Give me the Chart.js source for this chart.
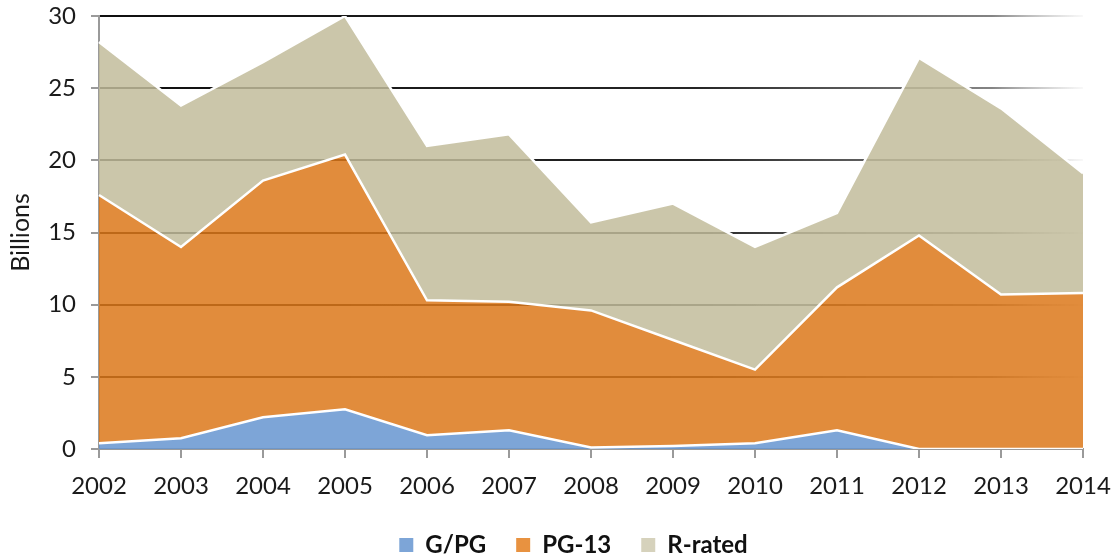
<!DOCTYPE html>
<html>
<head>
<meta charset="utf-8">
<script src="https://cdn.jsdelivr.net/npm/chart.js@4.4.1/dist/chart.umd.min.js"></script>
<style>
  html, body { margin: 0; padding: 0; background: #ffffff; }
  #wrap { width: 1114px; height: 559px; position: relative; }
</style>
</head>
<body>
<div id="wrap"><canvas id="c" width="1114" height="559"></canvas></div>
<script>
// ---- data (billions) ----
const years = ['2002','2003','2004','2005','2006','2007','2008','2009','2010','2011','2012','2013','2014'];
const gpg   = [0.4, 0.75, 2.2, 2.75, 0.95, 1.3, 0.1, 0.2, 0.4, 1.3, 0.0, 0.0, 0.0];
const pg13  = [17.2, 13.25, 16.4, 17.65, 9.35, 8.9, 9.5, 7.35, 5.1, 9.9, 14.8, 10.7, 10.8];
const rRated= [10.6, 9.8, 8.2, 9.6, 10.7, 11.6, 6.1, 9.45, 8.5, 5.15, 12.3, 12.9, 8.3];
const seriesNames = ['G/PG', 'PG-13', 'R-rated'];
const yTicks = [0, 5, 10, 15, 20, 25, 30];

const fillColors  = ['rgba(102,149,208,0.85)', 'rgba(220,120,26,0.85)', 'rgba(194,188,155,0.85)'];
const solidColors = ['rgb(125,165,215)', 'rgb(232,146,64)', 'rgb(214,210,188)'];
const FONT = 'Lato, "Open Sans", sans-serif';

function gridGradient(ctx) {
  const chart = ctx.chart;
  const ca = chart.chartArea;
  if (!ca) return 'rgba(40,40,40,0.9)';
  if (ctx.tick && ctx.tick.value === 0) return 'rgba(0,0,0,0)';
  const g = chart.ctx.createLinearGradient(ca.left, 0, ca.right + 8, 0);
  g.addColorStop(0, 'rgba(15,15,15,1)');
  g.addColorStop(0.6, 'rgba(25,25,25,0.95)');
  g.addColorStop(0.9, 'rgba(50,50,50,0.6)');
  g.addColorStop(1, 'rgba(120,120,120,0.0)');
  return g;
}

const shiftLegend = {
  id: 'shiftLegend',
  afterLayout(chart) {
    const lg = chart.legend;
    if (!lg) return;
    lg.left += 32; lg.right += 32;
    lg.top += 8; lg.bottom += 8;
  }
};

new Chart(document.getElementById('c'), {
  type: 'line',
  data: {
    labels: years,
    datasets: [gpg, pg13, rRated].map((vals, i) => ({
      label: seriesNames[i],
      data: vals,
      fill: i === 0 ? 'origin' : '-1',
      backgroundColor: fillColors[i],
      borderColor: '#ffffff',
      borderWidth: 2.5,
      pointRadius: 0,
      tension: 0
    }))
  },
  options: {
    responsive: false,
    animation: false,
    layout: { padding: { top: 16, right: 31, left: 0, bottom: 0 } },
    plugins: {
      tooltip: { enabled: false },
      legend: {
        position: 'bottom',
        labels: {
          font: { family: FONT, size: 24, weight: 'bold' },
          color: '#111',
          boxWidth: 14,
          boxHeight: 14,
          padding: 30,
          generateLabels(chart) {
            return chart.data.datasets.map((ds, i) => ({
              text: ds.label,
              fillStyle: solidColors[i],
              strokeStyle: solidColors[i],
              lineWidth: 0,
              hidden: false,
              datasetIndex: i,
              fontColor: '#111'
            }));
          }
        }
      }
    },
    scales: {
      x: {
        type: 'category',
        offset: false,
        grid: { drawOnChartArea: false, drawTicks: true, tickLength: 9, color: '#9a9a9a', lineWidth: 2 },
        border: { display: true, color: '#9a9a9a', width: 2 },
        ticks: { font: { family: FONT, size: 24 }, color: '#1a1a1a', padding: 14, maxRotation: 0, autoSkip: false },
        afterFit(scale) { scale.height = 46; scale.paddingLeft = 0; scale.paddingRight = 0; }
      },
      y: {
        stacked: true,
        min: 0,
        max: 30,
        afterBuildTicks(scale) { scale.ticks = yTicks.map(v => ({ value: v })); },
        grid: { color: gridGradient, lineWidth: 2, drawTicks: true, tickLength: 8, tickColor: '#9a9a9a' },
        border: { display: true, color: '#9a9a9a', width: 2 },
        ticks: { font: { family: FONT, size: 24 }, color: '#1a1a1a', padding: 15 },
        title: { display: true, text: 'Billions', font: { family: FONT, size: 25 }, color: '#1a1a1a', padding: { top: 6, bottom: 0 } },
        afterFit(scale) { scale.width = 99; scale.paddingTop = 0; scale.paddingBottom = 0; }
      }
    }
  },
  plugins: [shiftLegend]
});
</script>
</body>
</html>
